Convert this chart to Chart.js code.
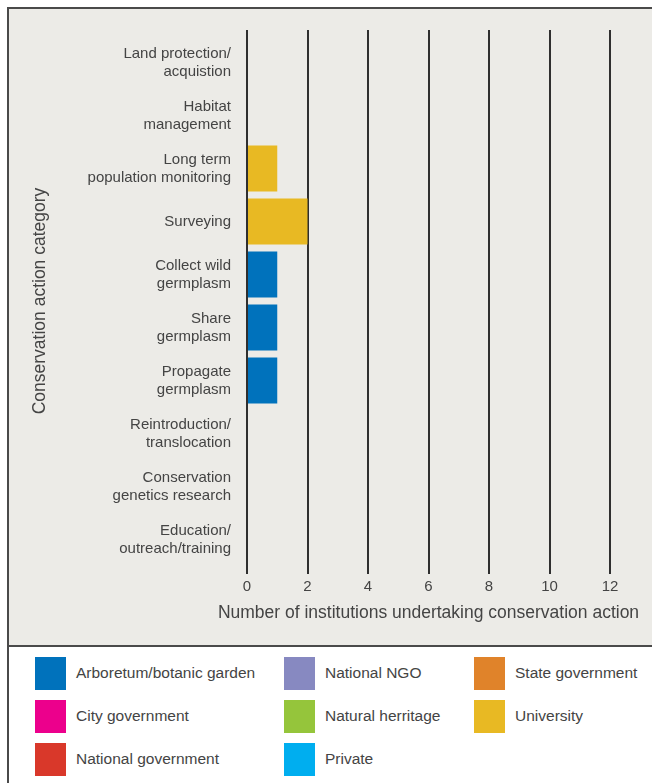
<!DOCTYPE html>
<html>
<head>
<meta charset="utf-8">
<script src="https://cdn.jsdelivr.net/npm/chart.js@4/dist/chart.umd.min.js"></script>
<style>
  body { margin: 0; background: #fff; font-family: "Liberation Sans", Arial, sans-serif; }
  #frame { position: absolute; left: 7px; top: 7px; width: 700px; height: 800px; border: 2px solid #4a4a4a; background: #fff; }
  #panel { position: absolute; left: 0; top: 0; width: 100%; height: 636px; background: #ecebe7; border-bottom: 2px solid #4a4a4a; }
  #wrap { position: absolute; left: 0; top: 0; width: 652px; height: 640px; }
  #legend { position: absolute; left: 35px; top: 657px; display: grid; grid-auto-flow: column;
            grid-template-rows: repeat(3, 43px); grid-template-columns: 249px 190px 170px; }
  .item { display: flex; align-items: flex-start; font-size: 15.5px; color: #444; white-space: nowrap; }
  .sw { width: 31px; height: 33px; margin-right: 10px; flex: none; }
  .item span { line-height: 32px; }
</style>
</head>
<body>
<div id="frame"><div id="panel"></div></div>
<div id="wrap"><canvas id="actionChart"></canvas></div>
<div id="legend"></div>
<script>
// Conservation action categories
const categories = [
  ['Land protection/', 'acquistion'],
  ['Habitat', 'management'],
  ['Long term', 'population monitoring'],
  ['Surveying'],
  ['Collect wild', 'germplasm'],
  ['Share', 'germplasm'],
  ['Propagate', 'germplasm'],
  ['Reintroduction/', 'translocation'],
  ['Conservation', 'genetics research'],
  ['Education/', 'outreach/training']
];

// Institution types and colours
const institutions = ['Arboretum/botanic garden', 'City government', 'National government',
  'National NGO', 'Natural herritage', 'Private', 'State government', 'University'];
const colours = ['#0072bc', '#ec008c', '#d9382a', '#8789c1', '#95c53b', '#00aeef', '#e0832a', '#e8b923'];

// Number of institutions per category
const arboretum   = [0, 0, 0, 0, 1, 1, 1, 0, 0, 0];
const cityGov     = [0, 0, 0, 0, 0, 0, 0, 0, 0, 0];
const nationalGov = [0, 0, 0, 0, 0, 0, 0, 0, 0, 0];
const nationalNgo = [0, 0, 0, 0, 0, 0, 0, 0, 0, 0];
const heritage    = [0, 0, 0, 0, 0, 0, 0, 0, 0, 0];
const privateOrg  = [0, 0, 0, 0, 0, 0, 0, 0, 0, 0];
const stateGov    = [0, 0, 0, 0, 0, 0, 0, 0, 0, 0];
const university  = [0, 0, 1, 2, 0, 0, 0, 0, 0, 0];
const seriesValues = [arboretum, cityGov, nationalGov, nationalNgo, heritage, privateOrg, stateGov, university];

// Axis ticks
const xTicks = [0, 2, 4, 6, 8, 10, 12];
const xTitle = 'Number of institutions undertaking conservation action';

const textColour = '#444';
const lineColour = '#2f2f2f';

// grid lines poke a little above the plot; x title is drawn wider than the scale allows
const extras = {
  id: 'extras',
  afterDraw(chart) {
    const ctx = chart.ctx;
    const x = chart.scales.x;
    const area = chart.chartArea;
    ctx.save();
    ctx.strokeStyle = lineColour;
    ctx.lineWidth = 2;
    xTicks.forEach(t => {
      const px = Math.round(x.getPixelForValue(t));
      ctx.beginPath();
      ctx.moveTo(px, area.top - 6);
      ctx.lineTo(px, area.top);
      ctx.stroke();
    });
    ctx.fillStyle = textColour;
    ctx.font = '17.5px "Liberation Sans"';
    ctx.textAlign = 'center';
    ctx.textBaseline = 'middle';
    ctx.fillText(xTitle, (area.left + area.right) / 2, 613);
    ctx.restore();
  }
};

const ctx = document.getElementById('actionChart').getContext('2d');

new Chart(ctx, {
  type: 'bar',
  data: {
    labels: categories,
    datasets: institutions.map((name, i) => ({
      label: name,
      data: seriesValues[i],
      backgroundColor: colours[i],
      borderWidth: 0,
      categoryPercentage: 1,
      barPercentage: 0.87
    }))
  },
  options: {
    indexAxis: 'y',
    responsive: true,
    maintainAspectRatio: false,
    animation: false,
    layout: { padding: { top: 36, right: 0, bottom: 0, left: 0 } },
    plugins: { legend: { display: false }, tooltip: { enabled: false } },
    scales: {
      x: {
        stacked: true,
        min: 0,
        max: 12,
        afterBuildTicks: s => { s.ticks = xTicks.map(v => ({ value: v })); },
        afterFit: s => { s.height = 74; s.paddingRight = 42; },
        border: { display: false },
        grid: { color: lineColour, lineWidth: 2, tickLength: 8 },
        ticks: { color: textColour, font: { family: 'Liberation Sans', size: 15 }, padding: 4, maxRotation: 0 }
      },
      y: {
        stacked: true,
        afterFit: s => { s.width = 247; },
        border: { display: false },
        grid: { display: false },
        ticks: { color: textColour, font: { family: 'Liberation Sans', size: 15, lineHeight: 1.2 }, padding: 8, autoSkip: false },
        title: {
          display: true,
          text: 'Conservation action category',
          color: textColour,
          font: { family: 'Liberation Sans', size: 17.5 },
          padding: 30
        }
      }
    }
  },
  plugins: [extras]
});

// HTML legend, laid out in columns like the original
const legendEl = document.getElementById('legend');
institutions.forEach((name, i) => {
  const item = document.createElement('div');
  item.className = 'item';
  item.innerHTML = '<div class="sw" style="background:' + colours[i] + '"></div><span>' + name + '</span>';
  legendEl.appendChild(item);
});
</script>
</body>
</html>
